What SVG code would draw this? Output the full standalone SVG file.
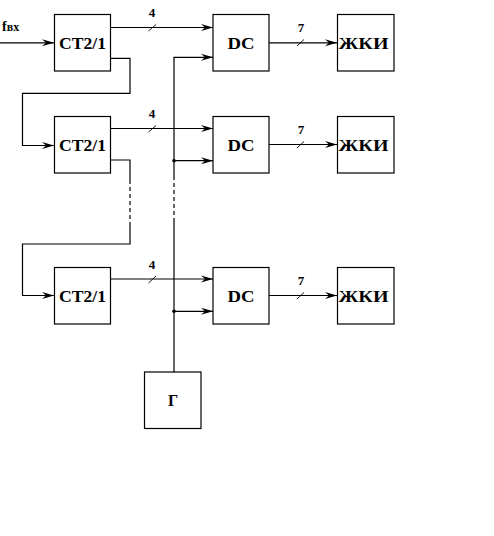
<svg xmlns="http://www.w3.org/2000/svg" width="494" height="536" viewBox="0 0 494 536">
<style>
.box{fill:#fff;stroke:#000;stroke-width:1.2}
.ln{fill:none;stroke:#000;stroke-width:1.2}
.dash{fill:none;stroke:#000;stroke-width:1.2;stroke-dasharray:4 3}
.t{font-family:"Liberation Serif","Times New Roman",serif;font-weight:bold;font-size:16px;text-anchor:middle;fill:#000}
.n{font-family:"Liberation Serif","Times New Roman",serif;font-weight:bold;font-size:13px;text-anchor:middle;fill:#000}
.sl{stroke:#000;stroke-width:0.9}
</style>
<defs>
<marker id="a" viewBox="0 0 12 8" refX="12" refY="4" markerWidth="12" markerHeight="8" markerUnits="userSpaceOnUse" orient="auto">
<path d="M0,0.5 L12,4 L0,7.5 L4,4 z" fill="#000"/>
</marker>
</defs>
<rect width="494" height="536" fill="#fff"/>

<g id="connectors">
<path class="ln" d="M0,42.8 H54" marker-end="url(#a)"/>
<text x="2" y="31" font-family="Liberation Serif, serif" font-weight="bold" font-size="14px">f<tspan font-size="12px">вх</tspan></text>

<path class="ln" d="M110,27.5 H213" marker-end="url(#a)"/>
<line class="sl" x1="148.5" y1="31" x2="156" y2="24.5"/>
<text class="n" x="152" y="17">4</text>
<path class="ln" d="M269,42.8 H337" marker-end="url(#a)"/>
<line class="sl" x1="297" y1="46" x2="304" y2="39.5"/>
<text class="n" x="301" y="32">7</text>

<path class="ln" d="M110,128.5 H213" marker-end="url(#a)"/>
<line class="sl" x1="148.5" y1="132" x2="156" y2="125.5"/>
<text class="n" x="152" y="118">4</text>
<path class="ln" d="M269,144.5 H337" marker-end="url(#a)"/>
<line class="sl" x1="297" y1="148" x2="304" y2="141.5"/>
<text class="n" x="301" y="134">7</text>

<path class="ln" d="M110,279 H213" marker-end="url(#a)"/>
<line class="sl" x1="148.5" y1="283" x2="156" y2="276"/>
<text class="n" x="152" y="269">4</text>
<path class="ln" d="M269,295.5 H337" marker-end="url(#a)"/>
<line class="sl" x1="297" y1="299" x2="304" y2="292.5"/>
<text class="n" x="301" y="285">7</text>

<path class="ln" d="M110,58.3 H130 V93.3 H22.5 V145.5 H54" marker-end="url(#a)"/>
<path class="ln" d="M110,160 H130 V180"/>
<path class="dash" d="M130,180 V226"/>
<path class="ln" d="M130,226 V244 H22.5 V295.5 H54" marker-end="url(#a)"/>

<path class="ln" d="M174,372 V222"/>
<path class="dash" d="M174,222 V180"/>
<path class="ln" d="M174,180 V57.3 H213" marker-end="url(#a)"/>
<path class="ln" d="M174,160.7 H213" marker-end="url(#a)"/>
<path class="ln" d="M174,311.3 H213" marker-end="url(#a)"/>
<circle cx="174" cy="160.7" r="1.8" fill="#000"/>
<circle cx="174" cy="311.3" r="1.8" fill="#000"/>
</g>

<g id="ct1"><rect class="box" x="54.5" y="14.5" width="56" height="56.5"/><text class="t" x="82.5" y="48.5" textLength="47" lengthAdjust="spacingAndGlyphs">СТ2/1</text></g>
<g id="ct2"><rect class="box" x="54.5" y="116.5" width="56" height="56.5"/><text class="t" x="82.5" y="150.5" textLength="47" lengthAdjust="spacingAndGlyphs">СТ2/1</text></g>
<g id="ct3"><rect class="box" x="54.5" y="267.5" width="56" height="56.5"/><text class="t" x="82.5" y="301.5" textLength="47" lengthAdjust="spacingAndGlyphs">СТ2/1</text></g>

<g id="dc1"><rect class="box" x="213" y="14.5" width="56" height="56.5"/><text class="t" x="241" y="48.5" textLength="27" lengthAdjust="spacingAndGlyphs">DC</text></g>
<g id="dc2"><rect class="box" x="213" y="116.5" width="56" height="56.5"/><text class="t" x="241" y="150.5" textLength="27" lengthAdjust="spacingAndGlyphs">DC</text></g>
<g id="dc3"><rect class="box" x="213" y="267.5" width="56" height="56.5"/><text class="t" x="241" y="301.5" textLength="27" lengthAdjust="spacingAndGlyphs">DC</text></g>

<g id="lcd1"><rect class="box" x="337.5" y="14.5" width="56.5" height="56.5"/><text class="t" x="363.5" y="48.5" textLength="50" lengthAdjust="spacingAndGlyphs">ЖКИ</text></g>
<g id="lcd2"><rect class="box" x="337.5" y="116.5" width="56.5" height="56.5"/><text class="t" x="363.5" y="150.5" textLength="50" lengthAdjust="spacingAndGlyphs">ЖКИ</text></g>
<g id="lcd3"><rect class="box" x="337.5" y="267.5" width="56.5" height="56.5"/><text class="t" x="363.5" y="301.5" textLength="50" lengthAdjust="spacingAndGlyphs">ЖКИ</text></g>

<g id="gen"><rect class="box" x="144.5" y="372" width="56.5" height="56.5"/><text class="t" x="173" y="406">Г</text></g>
</svg>
